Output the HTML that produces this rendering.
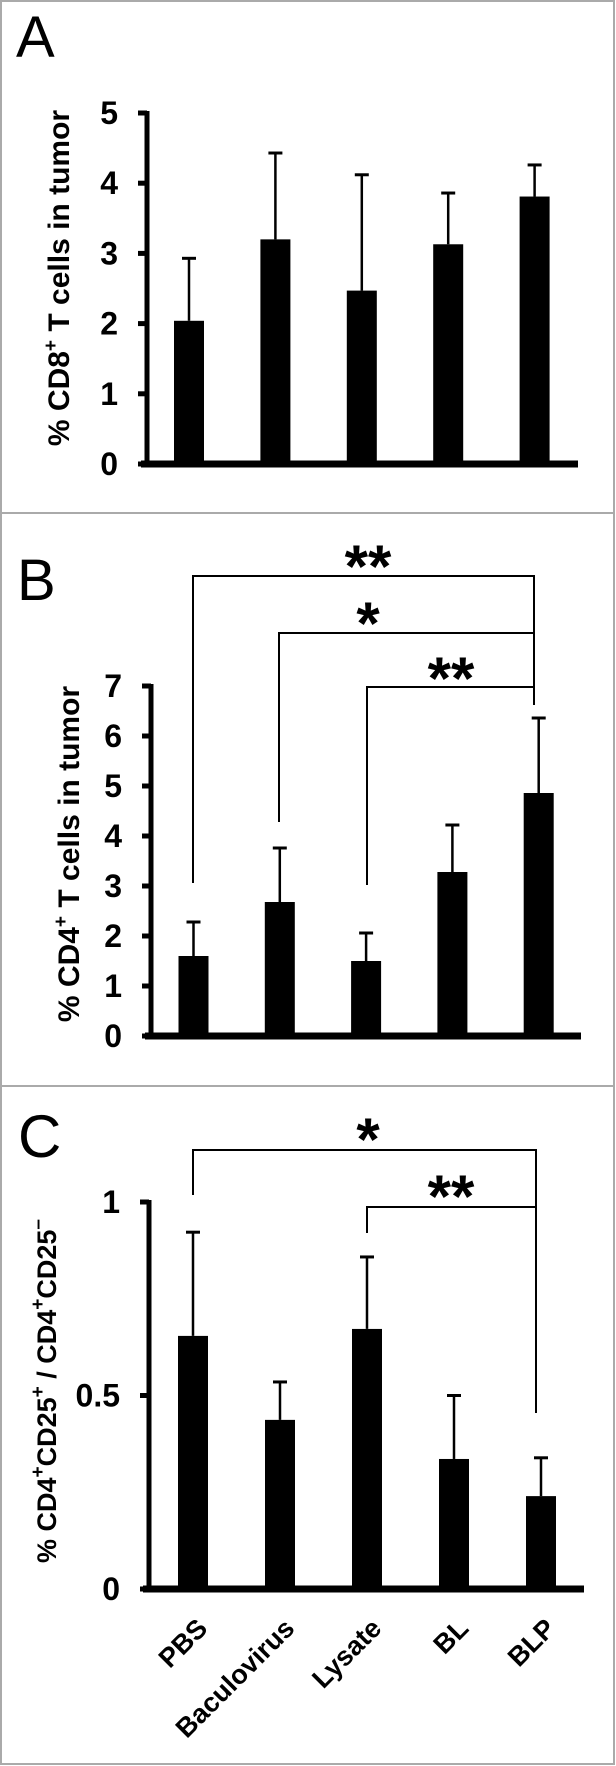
<!DOCTYPE html>
<html><head><meta charset="utf-8"><style>
html,body{margin:0;padding:0;background:#fff}
svg{display:block}
text{font-family:"Liberation Sans",Arial,sans-serif}
</style></head><body>
<svg width="616" height="1766" viewBox="0 0 616 1766">
<rect x="1" y="1" width="613" height="1763" fill="#fff" stroke="#aaa" stroke-width="2"/>
<line x1="1" y1="513" x2="615" y2="513" stroke="#aaa" stroke-width="2"/>
<line x1="1" y1="1086" x2="615" y2="1086" stroke="#aaa" stroke-width="2"/>
<text x="16" y="57" font-size="58">A</text>
<text x="17" y="600" font-size="58">B</text>
<text x="18" y="1157" font-size="60">C</text>
<g id="root"></g>
</svg>
<script>
const categories = ["PBS","Baculovirus","Lysate","BL","BLP"];
const meanA = [2.04, 3.2, 2.47, 3.13, 3.81];
const errA  = [0.89, 1.23, 1.65, 0.73, 0.45];
const ticksA = [0,1,2,3,4,5];
const meanB = [1.6, 2.68, 1.5, 3.28, 4.86];
const errB  = [0.68, 1.08, 0.56, 0.94, 1.5];
const ticksB = [0,1,2,3,4,5,6,7];
const meanC = [0.654, 0.437, 0.672, 0.336, 0.24];
const errC  = [0.268, 0.098, 0.186, 0.164, 0.099];
const ticksC = [0,0.5,1];
const tickLabelsC = ["0","0.5","1"];

const NS="http://www.w3.org/2000/svg";
const root=document.getElementById('root');
function mk(tag,attrs,parent){const e=document.createElementNS(NS,tag);for(const k in attrs)e.setAttribute(k,attrs[k]);(parent||root).appendChild(e);return e;}

function chart(cfg){
  const g=mk('g',{});
  
  
  const y=v=>cfg.y0-(v/cfg.max)*(cfg.y0-cfg.yTop);
  const x=i=>cfg.x0+i*cfg.step;
  const ax=mk('line',{x1:cfg.axX,y1:y(cfg.max)-2,x2:cfg.axX,y2:cfg.y0+3,stroke:'#000','stroke-width':5},g);
  
  
  cfg.ticks.forEach((t,i)=>{
    const tl=mk('line',{x1:cfg.axX-9,y1:y(t),x2:cfg.axX,y2:y(t),stroke:'#000','stroke-width':5},g);
    
    
    const tx=mk('text',{x:cfg.axX-29,y:y(t)+11,'font-size':32,'font-weight':'bold','text-anchor':'end'},g);
    tx.textContent=cfg.tickLabels?cfg.tickLabels[i]:String(t);
    
    
  });
  cfg.mean.forEach((m,i)=>{
    const cx=x(i);
    const eb=mk('line',{x1:cx,y1:y(m),x2:cx,y2:y(m+cfg.err[i]),stroke:'#000','stroke-width':2.5},g);
    
    
    const cap=mk('line',{x1:cx-7,y1:y(m+cfg.err[i]),x2:cx+7,y2:y(m+cfg.err[i]),stroke:'#000','stroke-width':3},g);
    
    
    const r=mk('rect',{x:cx-15,y:y(m),width:30,height:cfg.y0-y(m),fill:'#000'},g);
    
    
  });
  const bl=mk('line',{x1:cfg.axX-6,y1:cfg.y0,x2:cfg.xEnd,y2:cfg.y0,stroke:'#000','stroke-width':7},g);
  
  
  const yl=mk('text',{transform:`translate(${cfg.labX},${cfg.labY}) rotate(-90)`,'font-size':cfg.labSize,'font-weight':'bold','text-anchor':'middle'},g);
  yl.innerHTML=cfg.label;
  
  
  return {x,y,g};
}
function bracket(g,x1,x2,yb,leftEnd,rightEnd,label,lx,lcy){
  const p=mk('path',{d:`M${x1},${leftEnd} V${yb} H${x2} V${rightEnd}`,fill:'none',stroke:'#000','stroke-width':2},g);
  
  
  const t=mk('text',{x:lx,y:lcy+27,'font-size':60,'font-weight':'bold','text-anchor':'middle'},g);
  t.textContent=label;
  
  
}
function sup(s){return '<tspan font-size="19" dy="-12">'+s+'</tspan><tspan dy="12">';}
const A=chart({name:'chart-a',mean:meanA,err:errA,ticks:ticksA,max:5,y0:464,yTop:113,axX:147,x0:189,step:86.4,xEnd:578,labX:69,labY:278,labSize:30,
  label:'% CD8'+sup('+')+' T cells in tumor</tspan>'});
const B=chart({name:'chart-b',mean:meanB,err:errB,ticks:ticksB,max:7,y0:1036,yTop:686,axX:151,x0:193.5,step:86.3,xEnd:581,labX:79,labY:854,labSize:30,
  label:'% CD4'+sup('+')+' T cells in tumor</tspan>'});
const C=chart({name:'chart-c',mean:meanC,err:errC,ticks:ticksC,tickLabels:tickLabelsC,max:1,y0:1589,yTop:1202,axX:149,x0:193,step:87,xEnd:584,labX:56,labY:1391,labSize:27,
  label:'% CD4'+sup('+')+'CD25</tspan>'+sup('+')+' / CD4</tspan>'+sup('+')+'CD25</tspan><tspan font-size="19" dy="-12">\u2013</tspan>'});
bracket(B.g,193,534,576,883,705,'**',368,560);
bracket(B.g,279,534,633,822,705,'*',368,617);
bracket(B.g,367,534,687,885,705,'**',451,672);
bracket(C.g,193,536,1150,1195,1413,'*',368,1133);
bracket(C.g,367,536,1207,1233,1413,'**',451,1190);
categories.forEach((c,i)=>{
  const cx=C.x(i)+16, cy=1630;
  const t=mk('text',{transform:`translate(${cx},${cy}) rotate(-45)`,'font-size':27,'font-weight':'bold','text-anchor':'end'});
  t.textContent=c;
  
  
});
</script>
</body></html>
